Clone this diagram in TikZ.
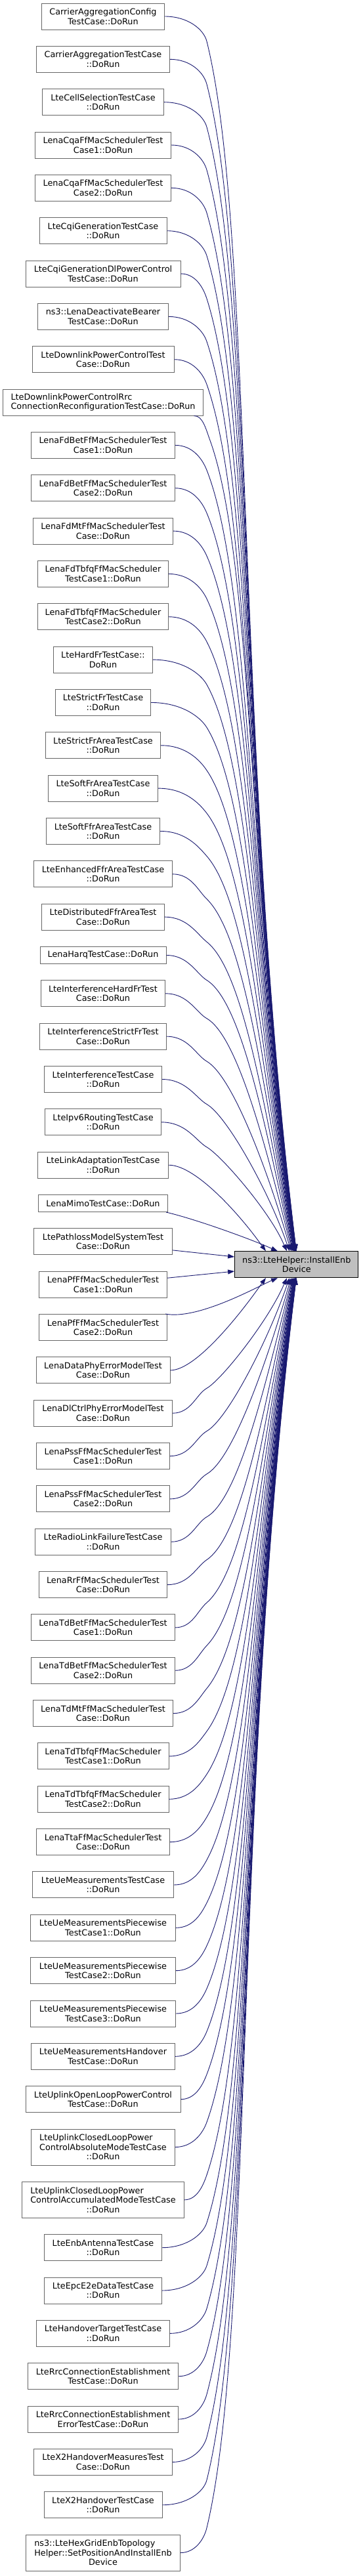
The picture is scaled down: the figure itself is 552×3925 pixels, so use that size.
\documentclass[tikz,border=0pt]{standalone}
\usepackage{fontspec}
\setmainfont{DejaVu Sans}
\usetikzlibrary{arrows.meta}
\definecolor{edgec}{HTML}{191970}
\definecolor{nodeb}{HTML}{666666}
\definecolor{targetfill}{HTML}{BFBFBF}
\tikzset{
  box/.style={draw=nodeb, line width=1pt, fill=white, inner sep=0pt, align=center,
    font=\fontsize{12.8}{14.5}\selectfont, text=black},
  one/.style={box, minimum height=26pt},
  two/.style={box, minimum height=40pt},
  three/.style={box, minimum height=55pt},
  targetbox/.style={box, draw=black, fill=targetfill, minimum height=40pt},
  conn/.style={draw=edgec, line width=0.9pt, -{Triangle[length=10pt,width=7pt]}}
}
% #1 index, #2 start x, #3 start y (positive downwards), #4 start point
\newcommand\TopEdge[4]{%
  \pgfmathsetmacro{\kk}{29-#1}%
  \pgfmathsetmacro{\Ex}{453-48/(\kk+1)}%
  \pgfmathsetmacro{\th}{95+55/(\kk+1)}%
  \pgfmathsetmacro{\D}{1906.7-#3}%
  \pgfmathsetmacro{\Qx}{max(#2+25,315)}%
  \pgfmathsetmacro{\Qd}{min(38,0.2*\D)}%
  \pgfmathsetmacro{\Qy}{-#3-\Qd}%
  \pgfmathsetmacro{\Dq}{\D-\Qd}%
  \pgfmathsetmacro{\al}{min(3.3*atan((\Ex-\Qx)/\Dq),60)}%
  \pgfmathsetmacro{\sa}{sin(\al)}%
  \pgfmathsetmacro{\ca}{cos(\al)}%
  \pgfmathsetmacro{\Cax}{#2+0.55*(\Qx-#2)}%
  \pgfmathsetmacro{\Cbx}{\Qx-0.5*\Qd*\sa}%
  \pgfmathsetmacro{\Cby}{\Qy+0.5*\Qd*\ca}%
  \pgfmathsetmacro{\Ccx}{\Qx+0.16*\Dq*\sa}%
  \pgfmathsetmacro{\Ccy}{\Qy-0.16*\Dq*\ca}%
  \pgfmathsetmacro{\Cdx}{\Ex+0.42*\Dq*cos(\th)}%
  \pgfmathsetmacro{\Cdy}{-1906.7+0.42*\Dq*sin(\th)}%
  \pgfmathsetmacro{\Px}{\Ex+12*cos(\th)}%
  \pgfmathsetmacro{\Py}{-1906.7+12*sin(\th)}%
  \pgfmathsetmacro{\xs}{\Ex-451.8}%
  \draw[conn] (#4) .. controls (\Cax,-#3) and (\Cbx,\Cby) .. (\Qx,\Qy)
     .. controls (\Ccx,\Ccy) and (\Cdx,\Cdy) .. (\Px,\Py) -- ([xshift=\xs pt]t.north);
}
\newcommand\BotEdge[4]{%
  \pgfmathsetmacro{\kk}{#1-32}%
  \pgfmathsetmacro{\Ex}{453-48/(\kk+1)}%
  \pgfmathsetmacro{\th}{265-55/(\kk+1)}%
  \pgfmathsetmacro{\D}{#3-1946.7}%
  \pgfmathsetmacro{\Qx}{max(#2+25,315)}%
  \pgfmathsetmacro{\Qd}{min(38,0.2*\D)}%
  \pgfmathsetmacro{\Qy}{-#3+\Qd}%
  \pgfmathsetmacro{\Dq}{\D-\Qd}%
  \pgfmathsetmacro{\al}{min(3.3*atan((\Ex-\Qx)/\Dq),60)}%
  \pgfmathsetmacro{\sa}{sin(\al)}%
  \pgfmathsetmacro{\ca}{cos(\al)}%
  \pgfmathsetmacro{\Cax}{#2+0.55*(\Qx-#2)}%
  \pgfmathsetmacro{\Cbx}{\Qx-0.5*\Qd*\sa}%
  \pgfmathsetmacro{\Cby}{\Qy-0.5*\Qd*\ca}%
  \pgfmathsetmacro{\Ccx}{\Qx+0.16*\Dq*\sa}%
  \pgfmathsetmacro{\Ccy}{\Qy+0.16*\Dq*\ca}%
  \pgfmathsetmacro{\Cdx}{\Ex+0.42*\Dq*cos(\th)}%
  \pgfmathsetmacro{\Cdy}{-1946.7+0.42*\Dq*sin(\th)}%
  \pgfmathsetmacro{\Px}{\Ex+12*cos(\th)}%
  \pgfmathsetmacro{\Py}{-1946.7+12*sin(\th)}%
  \pgfmathsetmacro{\xs}{\Ex-451.8}%
  \draw[conn] (#4) .. controls (\Cax,-#3) and (\Cbx,\Cby) .. (\Qx,\Qy)
     .. controls (\Ccx,\Ccy) and (\Cdx,\Cdy) .. (\Px,\Py) -- ([xshift=\xs pt]t.south);
}
\begin{document}
\begin{tikzpicture}[x=1pt,y=1pt]
\useasboundingbox (0,0) rectangle (552,-3925);
\node[targetbox, minimum width=188.3pt] (t) at (451.8,-1926.7) {ns3::LteHelper::InstallEnb\\Device};
\node[two, minimum width=187.4pt] (n1) at (157,-25) {CarrierAggregationConfig\\TestCase::DoRun};
\node[two, minimum width=203.4pt] (n2) at (157,-90.34) {CarrierAggregationTestCase\\::DoRun};
\node[two, minimum width=185.4pt] (n3) at (157,-155.68) {LteCellSelectionTestCase\\::DoRun};
\node[two, minimum width=207.4pt] (n4) at (157,-221.02) {LenaCqaFfMacSchedulerTest\\Case1::DoRun};
\node[two, minimum width=207.4pt] (n5) at (157,-286.36) {LenaCqaFfMacSchedulerTest\\Case2::DoRun};
\node[two, minimum width=194pt] (n6) at (157,-351.70) {LteCqiGenerationTestCase\\::DoRun};
\node[two, minimum width=236pt] (n7) at (157,-417.04) {LteCqiGenerationDlPowerControl\\TestCase::DoRun};
\node[two, minimum width=198.6pt] (n8) at (157,-482.38) {ns3::LenaDeactivateBearer\\TestCase::DoRun};
\node[two, minimum width=216pt] (n9) at (157,-547.72) {LteDownlinkPowerControlTest\\Case::DoRun};
\node[two, minimum width=304.6pt] (n10) at (157,-613.06) {\rlap{LteDownlinkPowerControlRrc}\phantom{ConnectionReconfigurationTestCase::DoRun}\\ConnectionReconfigurationTestCase::DoRun};
\node[two, minimum width=218.6pt] (n11) at (157,-678.40) {LenaFdBetFfMacSchedulerTest\\Case1::DoRun};
\node[two, minimum width=218.6pt] (n12) at (157,-743.74) {LenaFdBetFfMacSchedulerTest\\Case2::DoRun};
\node[two, minimum width=212.6pt] (n13) at (157,-809.08) {LenaFdMtFfMacSchedulerTest\\Case::DoRun};
\node[two, minimum width=198.6pt] (n14) at (157,-874.42) {LenaFdTbfqFfMacScheduler\\TestCase1::DoRun};
\node[two, minimum width=198.6pt] (n15) at (157,-939.76) {LenaFdTbfqFfMacScheduler\\TestCase2::DoRun};
\node[two, minimum width=150.6pt] (n16) at (157,-1005.10) {LteHardFrTestCase::\\DoRun};
\node[two, minimum width=145.4pt] (n17) at (157,-1070.44) {LteStrictFrTestCase\\::DoRun};
\node[two, minimum width=175.4pt] (n18) at (157,-1135.78) {LteStrictFrAreaTestCase\\::DoRun};
\node[two, minimum width=167.4pt] (n19) at (157,-1201.12) {LteSoftFrAreaTestCase\\::DoRun};
\node[two, minimum width=173.4pt] (n20) at (157,-1266.46) {LteSoftFfrAreaTestCase\\::DoRun};
\node[two, minimum width=210.6pt] (n21) at (157,-1331.80) {LteEnhancedFfrAreaTestCase\\::DoRun};
\node[two, minimum width=186.6pt] (n22) at (157,-1397.14) {LteDistributedFfrAreaTest\\Case::DoRun};
\node[one, minimum width=192pt] (n23) at (157,-1455.48) {LenaHarqTestCase::DoRun};
\node[two, minimum width=189.4pt] (n24) at (157,-1513.82) {LteInterferenceHardFrTest\\Case::DoRun};
\node[two, minimum width=192.6pt] (n25) at (157,-1579.16) {LteInterferenceStrictFrTest\\Case::DoRun};
\node[two, minimum width=178.6pt] (n26) at (157,-1644.50) {LteInterferenceTestCase\\::DoRun};
\node[two, minimum width=177.4pt] (n27) at (157,-1709.84) {LteIpv6RoutingTestCase\\::DoRun};
\node[two, minimum width=199.4pt] (n28) at (157,-1775.18) {LteLinkAdaptationTestCase\\::DoRun};
\node[one, minimum width=197.4pt] (n29) at (157,-1833.52) {LenaMimoTestCase::DoRun};
\node[two, minimum width=210.6pt] (n30) at (157,-1891.86) {LtePathlossModelSystemTest\\Case::DoRun};
\node[two, minimum width=195.4pt] (n31) at (157,-1957.20) {LenaPfFfMacSchedulerTest\\Case1::DoRun};
\node[two, minimum width=195.4pt] (n32) at (157,-2022.54) {LenaPfFfMacSchedulerTest\\Case2::DoRun};
\node[two, minimum width=204pt] (n33) at (157,-2087.88) {LenaDataPhyErrorModelTest\\Case::DoRun};
\node[two, minimum width=210.6pt] (n34) at (157,-2153.22) {LenaDlCtrlPhyErrorModelTest\\Case::DoRun};
\node[two, minimum width=203.4pt] (n35) at (157,-2218.56) {LenaPssFfMacSchedulerTest\\Case1::DoRun};
\node[two, minimum width=203.4pt] (n36) at (157,-2283.90) {LenaPssFfMacSchedulerTest\\Case2::DoRun};
\node[two, minimum width=206.6pt] (n37) at (157,-2349.24) {LteRadioLinkFailureTestCase\\::DoRun};
\node[two, minimum width=195.4pt] (n38) at (157,-2414.58) {LenaRrFfMacSchedulerTest\\Case::DoRun};
\node[two, minimum width=218.6pt] (n39) at (157,-2479.92) {LenaTdBetFfMacSchedulerTest\\Case1::DoRun};
\node[two, minimum width=218.6pt] (n40) at (157,-2545.26) {LenaTdBetFfMacSchedulerTest\\Case2::DoRun};
\node[two, minimum width=213.4pt] (n41) at (157,-2610.60) {LenaTdMtFfMacSchedulerTest\\Case::DoRun};
\node[two, minimum width=200pt] (n42) at (157,-2675.94) {LenaTdTbfqFfMacScheduler\\TestCase1::DoRun};
\node[two, minimum width=200pt] (n43) at (157,-2741.28) {LenaTdTbfqFfMacScheduler\\TestCase2::DoRun};
\node[two, minimum width=203.4pt] (n44) at (157,-2806.62) {LenaTtaFfMacSchedulerTest\\Case::DoRun};
\node[two, minimum width=215.4pt] (n45) at (157,-2871.96) {LteUeMeasurementsTestCase\\::DoRun};
\node[two, minimum width=221.4pt] (n46) at (157,-2937.30) {LteUeMeasurementsPiecewise\\TestCase1::DoRun};
\node[two, minimum width=221.4pt] (n47) at (157,-3002.64) {LteUeMeasurementsPiecewise\\TestCase2::DoRun};
\node[two, minimum width=221.4pt] (n48) at (157,-3067.98) {LteUeMeasurementsPiecewise\\TestCase3::DoRun};
\node[two, minimum width=218.6pt] (n49) at (157,-3133.32) {LteUeMeasurementsHandover\\TestCase::DoRun};
\node[two, minimum width=236pt] (n50) at (157,-3198.66) {LteUplinkOpenLoopPowerControl\\TestCase::DoRun};
\node[three, minimum width=218.6pt] (n51) at (157,-3271.50) {\rlap{LteUplinkClosedLoopPower}\phantom{ControlAbsoluteModeTestCase}\\ControlAbsoluteModeTestCase\\::DoRun};
\node[three, minimum width=246.6pt] (n52) at (157,-3351.84) {\rlap{LteUplinkClosedLoopPower}\phantom{ControlAccumulatedModeTestCase}\\ControlAccumulatedModeTestCase\\::DoRun};
\node[two, minimum width=178.6pt] (n53) at (157,-3424.68) {LteEnbAntennaTestCase\\::DoRun};
\node[two, minimum width=178.6pt] (n54) at (157,-3490.02) {LteEpcE2eDataTestCase\\::DoRun};
\node[two, minimum width=202.6pt] (n55) at (157,-3555.36) {LteHandoverTargetTestCase\\::DoRun};
\node[two, minimum width=229.4pt] (n56) at (157,-3620.70) {LteRrcConnectionEstablishment\\TestCase::DoRun};
\node[two, minimum width=229.4pt] (n57) at (157,-3686.04) {LteRrcConnectionEstablishment\\ErrorTestCase::DoRun};
\node[two, minimum width=210.6pt] (n58) at (157,-3751.38) {LteX2HandoverMeasuresTest\\Case::DoRun};
\node[two, minimum width=180pt] (n59) at (157,-3816.72) {LteX2HandoverTestCase\\::DoRun};
\node[three, minimum width=234.6pt] (n60) at (157,-3889.56) {\rlap{ns3::LteHexGridEnbTopology}\phantom{Helper::SetPositionAndInstallEnb}\\Helper::SetPositionAndInstallEnb\\Device};

\foreach \i/\cy/\w in {1/25/187.4,2/90.34/203.4,3/155.68/185.4,4/221.02/207.4,5/286.36/207.4,6/351.70/194,7/417.04/236,8/482.38/198.6,9/547.72/216,11/678.40/218.6,12/743.74/218.6,13/809.08/212.6,14/874.42/198.6,15/939.76/198.6,16/1005.10/150.6,17/1070.44/145.4,18/1135.78/175.4,19/1201.12/167.4,20/1266.46/173.4,21/1331.80/210.6,22/1397.14/186.6,23/1455.48/192,24/1513.82/189.4,25/1579.16/192.6,26/1644.50/178.6,27/1709.84/177.4}{
  \pgfmathsetmacro{\Sx}{157+\w/2}
  \TopEdge{\i}{\Sx}{\cy}{n\i.east}
}
\TopEdge{10}{295}{633.06}{[xshift=-14.3pt]n10.south east}
\foreach \i/\cy/\w in {34/2153.22/210.6,35/2218.56/203.4,36/2283.90/203.4,37/2349.24/206.6,38/2414.58/195.4,39/2479.92/218.6,40/2545.26/218.6,41/2610.60/213.4,42/2675.94/200,43/2741.28/200,44/2806.62/203.4,45/2871.96/215.4,46/2937.30/221.4,47/3002.64/221.4,48/3067.98/221.4,49/3133.32/218.6,50/3198.66/236,51/3271.50/218.6,52/3351.84/246.6,53/3424.68/178.6,54/3490.02/178.6,55/3555.36/202.6,56/3620.70/229.4,57/3686.04/229.4,58/3751.38/210.6,59/3816.72/180,60/3889.56/234.6}{
  \pgfmathsetmacro{\Sx}{157+\w/2}
  \BotEdge{\i}{\Sx}{\cy}{n\i.east}
}
% near neighbours of the target
\draw[conn] (n28.east) .. controls (300,-1775.18) and (370.6,-1857.6) .. (398.1,-1896.9) -- ([xshift=-46.8pt]t.north);
\draw[conn] ([xshift=-3pt]n29.south east) .. controls (300,-1858) and (386.7,-1889.8) .. (412.1,-1901.6) -- ([xshift=-28.8pt]t.north);
\draw[conn] ([yshift=-13pt]n30.east) -- ([yshift=11.7pt]t.west);
\draw[conn] ([yshift=10pt]n31.east) -- ([yshift=-10.3pt]t.west);
\draw[conn] ([xshift=-3pt]n32.north east) .. controls (300,-2011) and (386.7,-1963.6) .. (412.1,-1951.8) -- ([xshift=-28.8pt]t.south);
\draw[conn] (n33.east) .. controls (300,-2087.88) and (370.6,-1995.8) .. (398.1,-1956.5) -- ([xshift=-46.8pt]t.south);
\end{tikzpicture}
\end{document}
